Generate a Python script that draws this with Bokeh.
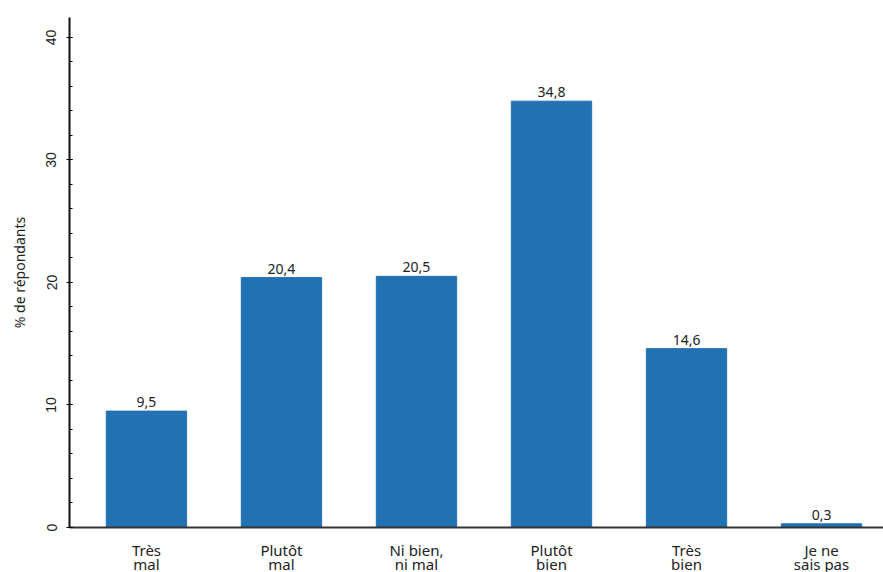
from bokeh.plotting import figure
from bokeh.models import FixedTicker, ColumnDataSource, Range1d
from bokeh.embed import file_html
from bokeh.resources import INLINE
from bokeh.core.properties import value

categories = ["Très\nmal", "Plutôt\nmal", "Ni bien,\nni mal", "Plutôt\nbien", "Très\nbien", "Je ne\nsais pas"]
values = [9.5, 20.4, 20.5, 34.8, 14.6, 0.3]
y_ticks = [0, 10, 20, 30, 40]

xs = list(range(len(categories)))
labels = [f"{v:.1f}".replace(".", ",") for v in values]
src = ColumnDataSource(dict(x=xs, top=values, label=labels))

p = figure(width=883, height=576, output_backend="svg", toolbar_location=None,
           x_range=Range1d(-0.57, 5.459), y_range=Range1d(0, 41.63),
           min_border_left=69, min_border_right=0, min_border_top=17, min_border_bottom=48)
p.outline_line_color = None
p.grid.visible = False

p.vbar(x="x", top="top", width=0.595, source=src, fill_color="#2271b3", line_color="#2271b3")
p.text(x="x", y="top", text="label", source=src, text_align="center", text_baseline="bottom",
       text_font=value("Noto Sans"), text_font_size="14px", text_color="#222222", y_offset=-4)

# x axis
xa = p.xaxis[0]
xa.ticker = FixedTicker(ticks=xs)
xa.major_label_overrides = {i: c for i, c in enumerate(categories)}
xa.major_tick_line_color = None
xa.minor_tick_line_color = None
xa.axis_line_width = 2
xa.axis_line_color = "#333333"
xa.major_label_text_font = "Noto Sans"
xa.major_label_text_font_size = "15px"
xa.major_label_text_color = "#222222"
xa.major_label_text_line_height = 0.7
xa.major_label_standoff = 6

# y axis
ya = p.yaxis[0]
ya.ticker = FixedTicker(ticks=y_ticks, minor_ticks=list(range(0, 41, 2)))
ya.major_label_orientation = "vertical"
ya.major_tick_in = 3
ya.major_tick_out = 3
ya.minor_tick_in = 3
ya.minor_tick_out = 0
ya.axis_line_width = 2
ya.axis_line_color = "#111111"
ya.major_label_text_font = "Liberation Sans"
ya.major_label_text_font_size = "14px"
ya.major_label_text_color = "#222222"
ya.major_label_standoff = 10
ya.axis_label = "% de répondants"
ya.axis_label_text_font = "Noto Sans"
ya.axis_label_text_font_style = "normal"
ya.axis_label_text_font_size = "14px"
ya.axis_label_text_color = "#222222"
ya.axis_label_standoff = 15

open("out.html", "w").write(file_html(p, INLINE))
